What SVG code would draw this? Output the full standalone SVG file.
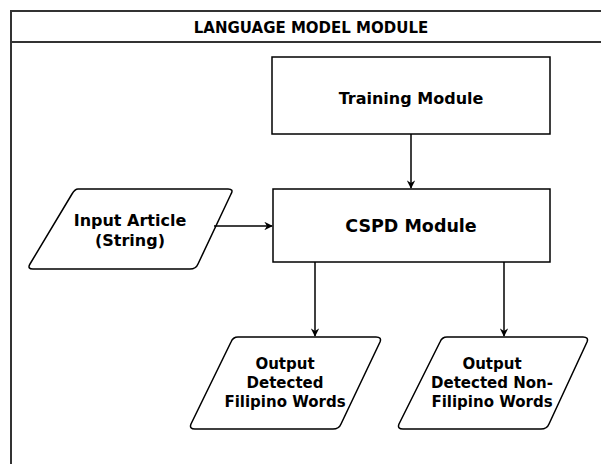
<svg xmlns="http://www.w3.org/2000/svg" width="601" height="464" viewBox="0 0 601 464">
<style>
  text { font-family: "DejaVu Sans", Verdana, sans-serif; font-weight: bold; fill: #000; text-anchor: middle; }
  .shape { fill: #fff; stroke: #000; stroke-width: 1.5; }
  .frame { fill: #fff; stroke: #333; stroke-width: 2; }
  .conn { fill: none; stroke: #000; stroke-width: 1.5; }
</style>
<defs>
  <marker id="arrow" viewBox="0 0 10 10" refX="9" refY="5" markerWidth="8.5" markerHeight="8.5" markerUnits="userSpaceOnUse" orient="auto">
    <path d="M0,0 L10,5 L0,10 L3,5 Z" fill="#000"/>
  </marker>
</defs>
<rect width="601" height="464" fill="#fff"/>
<g id="container">
  <rect class="frame" x="11" y="11" width="620" height="480"/>
  <line x1="11" y1="42" x2="601" y2="42" stroke="#333" stroke-width="2"/>
  <text x="311" y="33" font-size="15">LANGUAGE MODEL MODULE</text>
</g>
<g id="training">
  <rect class="shape" x="272" y="57" width="278" height="77"/>
  <text x="411" y="104" font-size="16">Training Module</text>
</g>
<g id="cspd">
  <rect class="shape" x="273" y="189" width="277" height="73"/>
  <text x="411" y="232" font-size="17.5">CSPD Module</text>
</g>
<g id="input">
  <path class="shape" d="M78,189 L228,189 Q234,189 231,194 L198,264 Q196,269 190,269 L33,269 Q27,269 30,264 L72,194 Q75,189 78,189 Z"/>
  <text x="130" y="226" font-size="16">Input Article</text>
  <text x="130" y="246" font-size="16">(String)</text>
</g>
<g id="output-filipino">
  <path class="shape" d="M238,337 L376,337 Q382,337 380,342 L341,424 Q339,429 333,429 L195,429 Q189,429 191,424 L231,342 Q233,337 238,337 Z"/>
  <text x="285" y="369" font-size="15">Output</text>
  <text x="285" y="388" font-size="15">Detected</text>
  <text x="285" y="407" font-size="15">Filipino Words</text>
</g>
<g id="output-nonfilipino">
  <path class="shape" d="M447,337 L583,337 Q589,337 587,342 L549,424 Q547,429 541,429 L403,429 Q397,429 399,424 L440,342 Q442,337 447,337 Z"/>
  <text x="492" y="369" font-size="15">Output</text>
  <text x="492" y="388" font-size="15">Detected Non-</text>
  <text x="492" y="407" font-size="15">Filipino Words</text>
</g>
<g id="connectors">
  <line class="conn" x1="411" y1="134" x2="411" y2="188" marker-end="url(#arrow)"/>
  <line class="conn" x1="214" y1="226" x2="272" y2="226" marker-end="url(#arrow)"/>
  <line class="conn" x1="315" y1="262" x2="315" y2="336" marker-end="url(#arrow)"/>
  <line class="conn" x1="504" y1="262" x2="504" y2="336" marker-end="url(#arrow)"/>
</g>
</svg>
